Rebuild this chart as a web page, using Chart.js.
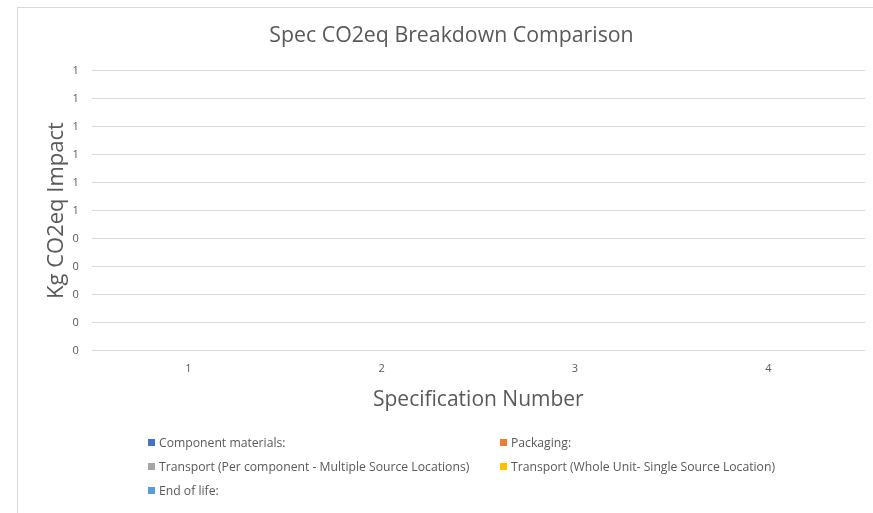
<!DOCTYPE html>
<html>
<head>
<meta charset="utf-8">
<script src="https://cdn.jsdelivr.net/npm/chart.js@4.4.1/dist/chart.umd.min.js"></script>
<style>
  html, body { margin: 0; padding: 0; background: #ffffff; }
  #wrap { position: relative; width: 873px; height: 513px; overflow: hidden; }
  #frame { position: absolute; left: 17px; top: 7px; right: 0; bottom: 0; border-left: 1px solid #d9d9d9; border-top: 1px solid #d9d9d9; }
  #chartBox { position: absolute; left: 0; top: 0; width: 873px; height: 513px; }
  #legend { position: absolute; left: 148px; top: 433px; font-family: "Open Sans", sans-serif; font-size: 12.2px; color: #595959; }
  .item { position: absolute; white-space: nowrap; height: 20px; line-height: 20px; }
  .box { display: inline-block; width: 7px; height: 7px; margin-right: 4px; vertical-align: middle; position: relative; top: -1px; }
</style>
</head>
<body>
<div id="wrap">
  <div id="frame"></div>
  <div id="chartBox"><canvas id="c"></canvas></div>
  <div id="legend"></div>
</div>
<script>
const categories = ["1", "2", "3", "4"];
const seriesNames = [
  "Component materials:",
  "Packaging:",
  "Transport (Per component - Multiple Source Locations)",
  "Transport (Whole Unit- Single Source Location)",
  "End of life:"
];
const componentMaterials = [null, null, null, null];
const packaging = [null, null, null, null];
const transportPerComponent = [null, null, null, null];
const transportWholeUnit = [null, null, null, null];
const endOfLife = [null, null, null, null];
const seriesColors = ["#4472C4", "#ED7D31", "#A5A5A5", "#FFC000", "#5B9BD5"];
const yTickLabels = ["0", "0", "0", "0", "0", "1", "1", "1", "1", "1", "1"];

const seriesValues = [componentMaterials, packaging, transportPerComponent, transportWholeUnit, endOfLife];
const FONT = "'Open Sans', sans-serif";

const chart = new Chart(document.getElementById('c'), {
  type: 'bar',
  data: {
    labels: categories,
    datasets: seriesNames.map((name, i) => ({
      label: name,
      data: seriesValues[i],
      backgroundColor: seriesColors[i],
      borderWidth: 0
    }))
  },
  options: {
    responsive: true,
    maintainAspectRatio: false,
    animation: false,
    layout: { padding: { left: 38, right: 8, top: 0, bottom: 100 } },
    plugins: {
      legend: { display: false },
      tooltip: { enabled: false },
      title: {
        display: true,
        text: "Spec CO2eq Breakdown Comparison",
        color: "#595959",
        font: { family: FONT, size: 21.3, weight: 'normal' },
        padding: { top: 23, bottom: 22 }
      }
    },
    scales: {
      x: {
        stacked: true,
        grid: { display: false, drawTicks: false },
        border: { display: false },
        ticks: { color: "#595959", font: { family: FONT, size: 11 }, padding: 12 },
        title: {
          display: true,
          text: "Specification Number",
          color: "#595959",
          font: { family: FONT, size: 21, weight: 'normal' },
          padding: { top: 0, bottom: 0 }
        }
      },
      y: {
        stacked: true,
        min: 0,
        max: 1,
        grid: { color: "#d9d9d9", drawTicks: false, lineWidth: 1 },
        border: { display: false },
        ticks: {
          stepSize: 0.1,
          color: "#595959",
          font: { family: FONT, size: 11 },
          padding: 13,
          callback: (v, i) => yTickLabels[i]
        },
        title: {
          display: true,
          text: "Kg CO2eq Impact",
          color: "#595959",
          font: { family: FONT, size: 22, weight: 'normal' },
          padding: { top: 6, bottom: -11 }
        }
      }
    }
  }
});

const legendEl = document.getElementById('legend');
const colX = [0, 352];
seriesNames.forEach((name, i) => {
  const d = document.createElement('div');
  d.className = 'item';
  d.style.left = colX[i % 2] + 'px';
  d.style.top = (Math.floor(i / 2) * 24) + 'px';
  const b = document.createElement('span');
  b.className = 'box';
  b.style.background = seriesColors[i];
  d.appendChild(b);
  d.appendChild(document.createTextNode(name));
  legendEl.appendChild(d);
});
</script>
</body>
</html>
